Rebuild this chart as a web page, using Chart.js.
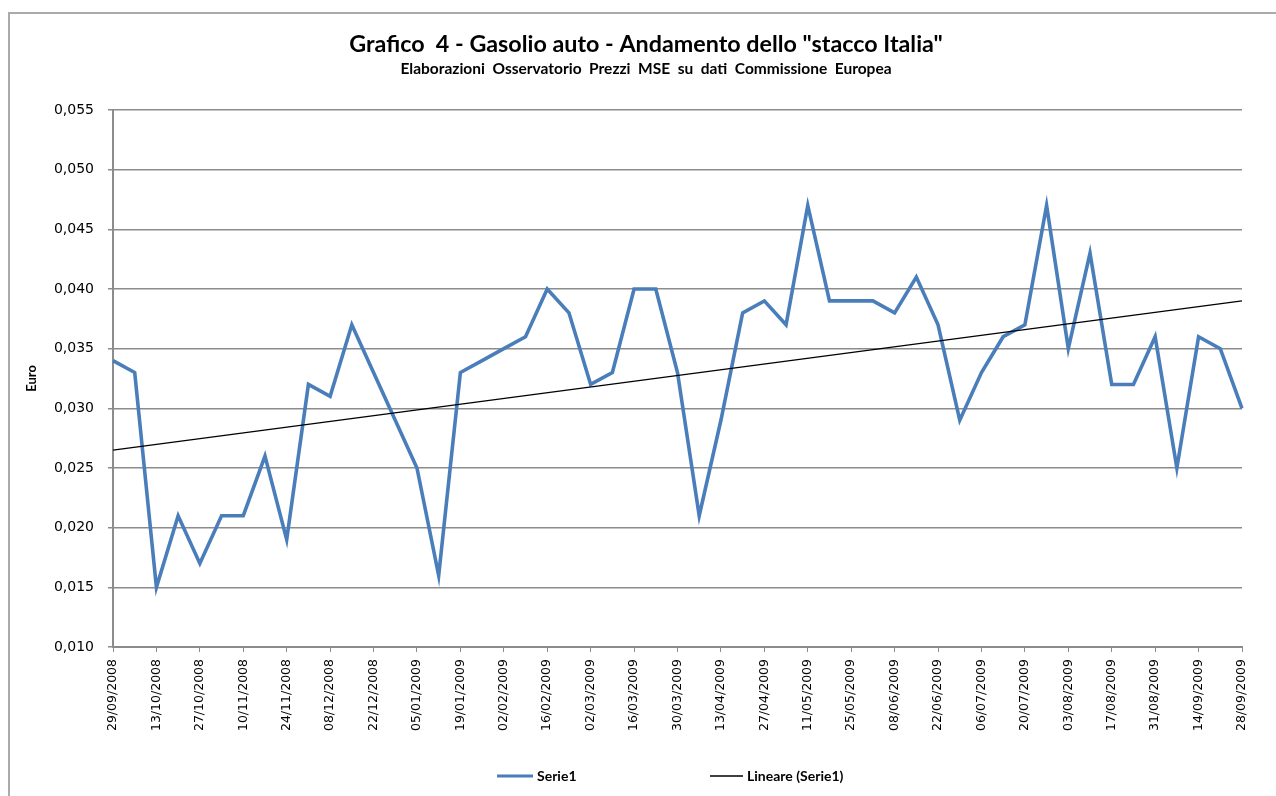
<!DOCTYPE html>
<html>
<head>
<meta charset="utf-8">
<script src="https://cdn.jsdelivr.net/npm/chart.js@4/dist/chart.umd.min.js"></script>
<style>
  html, body { margin: 0; padding: 0; background: #ffffff; overflow: hidden; }
  #wrap { position: relative; width: 1276px; height: 796px; }
  #frame { position: absolute; left: 8px; top: 12px; width: 1300px; height: 820px;
           border-top: 2px solid #ababab; border-left: 2px solid #ababab; pointer-events: none; }
  canvas { position: absolute; left: 0; top: 0; }
</style>
</head>
<body>
<div id="wrap">
  <canvas id="c" width="1276" height="796"></canvas>
  <div id="frame"></div>
</div>
<script>
// ---- Data ----
const dateLabels = [
  "29/09/2008","06/10/2008","13/10/2008","20/10/2008","27/10/2008","03/11/2008","10/11/2008","17/11/2008","24/11/2008",
  "01/12/2008","08/12/2008","15/12/2008","22/12/2008","29/12/2008","05/01/2009","12/01/2009","19/01/2009","26/01/2009",
  "02/02/2009","09/02/2009","16/02/2009","23/02/2009","02/03/2009","09/03/2009","16/03/2009","23/03/2009","30/03/2009",
  "06/04/2009","13/04/2009","20/04/2009","27/04/2009","04/05/2009","11/05/2009","18/05/2009","25/05/2009","01/06/2009",
  "08/06/2009","15/06/2009","22/06/2009","29/06/2009","06/07/2009","13/07/2009","20/07/2009","27/07/2009","03/08/2009",
  "10/08/2009","17/08/2009","24/08/2009","31/08/2009","07/09/2009","14/09/2009","21/09/2009","28/09/2009"
];
const serie1 = [
  0.034, 0.033, 0.015, 0.021, 0.017, 0.021, 0.021, 0.026, 0.019,
  0.032, 0.031, 0.037, 0.033, 0.029, 0.025, 0.016, 0.033, 0.034,
  0.035, 0.036, 0.040, 0.038, 0.032, 0.033, 0.040, 0.040, 0.033,
  0.021, 0.029, 0.038, 0.039, 0.037, 0.047, 0.039, 0.039, 0.039,
  0.038, 0.041, 0.037, 0.029, 0.033, 0.036, 0.037, 0.047, 0.035,
  0.043, 0.032, 0.032, 0.036, 0.025, 0.036, 0.035, 0.030
];
// Linear trendline endpoints (first and last date)
const trendEnds = [0.0265, 0.0390];
const seriesNames = ["Serie1", "Lineare (Serie1)"];
const titleText = "Grafico  4 - Gasolio auto - Andamento dello \"stacco Italia\"";
const subtitleText = "Elaborazioni  Osservatorio  Prezzi  MSE  su  dati  Commissione  Europea";
const yAxisTitle = "Euro";

const trendData = dateLabels.map((_, i) =>
  i === 0 ? trendEnds[0] : (i === dateLabels.length - 1 ? trendEnds[1] : null));

const BLUE = "#4a7ebb";
const GRID = "#8c8c8c";

// Custom bottom legend (Excel-like spacing)
const bottomLegend = {
  id: "bottomLegend",
  afterDraw(chart) {
    const ctx = chart.ctx;
    const y = 776;
    const items = [
      { x: 497, len: 36, color: BLUE, w: 3, text: seriesNames[0] },
      { x: 710, len: 33, color: "#000000", w: 1.5, text: seriesNames[1] }
    ];
    ctx.save();
    ctx.font = "bold 14px Lato";
    ctx.textBaseline = "middle";
    ctx.textAlign = "left";
    items.forEach(it => {
      ctx.strokeStyle = it.color;
      ctx.lineWidth = it.w;
      ctx.beginPath();
      ctx.moveTo(it.x, y);
      ctx.lineTo(it.x + it.len, y);
      ctx.stroke();
      ctx.fillStyle = "#000000";
      ctx.fillText(it.text, it.x + it.len + 4, y);
    });
    ctx.restore();
  }
};

new Chart(document.getElementById("c"), {
  type: "line",
  data: {
    labels: dateLabels,
    datasets: [
      {
        label: seriesNames[0],
        data: serie1,
        borderColor: BLUE,
        backgroundColor: BLUE,
        borderWidth: 3.6,
        pointRadius: 0,
        tension: 0,
        order: 2,
        borderJoinStyle: "miter"
      },
      {
        label: seriesNames[1],
        data: trendData,
        borderColor: "#000000",
        backgroundColor: "#000000",
        borderWidth: 1.3,
        pointRadius: 0,
        tension: 0,
        spanGaps: true,
        order: 1
      }
    ]
  },
  options: {
    responsive: false,
    animation: false,
    devicePixelRatio: 1,
    layout: { padding: { left: 50, right: 34, top: 20, bottom: 60 } },
    plugins: {
      legend: { display: false },
      tooltip: { enabled: false },
      title: {
        display: true,
        text: titleText,
        color: "#000000",
        font: { family: "Lato", size: 23.3, weight: "bold", lineHeight: 1.2 },
        padding: { top: 10, bottom: 0 }
      },
      subtitle: {
        display: true,
        text: subtitleText,
        color: "#000000",
        font: { family: "Lato", size: 15.5, weight: "bold", lineHeight: 1.2 },
        padding: { top: 2, bottom: 31.4 }
      }
    },
    scales: {
      x: {
        type: "category",
        offset: false,
        grid: {
          display: true,
          drawOnChartArea: false,
          drawTicks: true,
          tickLength: 5,
          color: GRID,
          lineWidth: 1
        },
        border: { display: true, color: GRID, width: 2 },
        ticks: {
          autoSkip: false,
          minRotation: 90,
          maxRotation: 90,
          padding: 7,
          color: "#000000",
          font: { family: "DejaVu Sans", size: 12.5 },
          callback: function (v, i) { return i % 2 === 0 ? dateLabels[i] : null; }
        },
        afterFit: function (s) { s.height = 89; }
      },
      y: {
        min: 0.010,
        max: 0.055,
        grid: {
          color: GRID,
          lineWidth: 1.5,
          drawTicks: true,
          tickLength: 5
        },
        border: { display: true, color: GRID, width: 2 },
        ticks: {
          stepSize: 0.005,
          padding: 14,
          color: "#000000",
          font: { family: "DejaVu Sans", size: 14 },
          callback: function (v) { return (Math.round(v * 1000) / 1000).toFixed(3).replace(".", ","); }
        },
        title: {
          display: true,
          text: yAxisTitle,
          color: "#000000",
          font: { family: "Lato", size: 13, weight: "bold" },
          padding: { top: -26, bottom: 0 }
        },
        afterFit: function (s) { s.width = 63; }
      }
    }
  },
  plugins: [bottomLegend]
});
</script>
</body>
</html>
